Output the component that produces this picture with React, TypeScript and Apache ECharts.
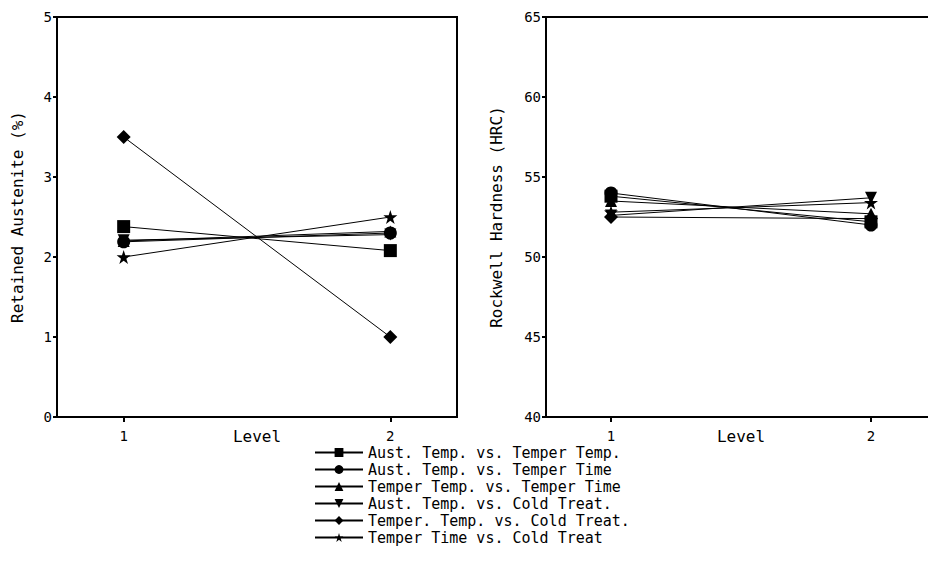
import React, { useEffect, useRef } from "react";
import * as echarts from "echarts";

const seriesNames = [
  "Aust. Temp. vs. Temper Temp.",
  "Aust. Temp. vs. Temper Time",
  "Temper Temp. vs. Temper Time",
  "Aust. Temp. vs. Cold Treat.",
  "Temper. Temp. vs. Cold Treat.",
  "Temper Time vs. Cold Treat",
];
const levels = [1, 2];
// Retained austenite (%) at level 1 and level 2
const austenite = [
  [2.38, 2.08],
  [2.19, 2.3],
  [2.2, 2.32],
  [2.21, 2.28],
  [3.5, 1.0],
  [2.0, 2.5],
];
// Rockwell hardness (HRC) at level 1 and level 2
const hardness = [
  [53.8, 52.2],
  [54.0, 52.0],
  [53.5, 52.7],
  [52.6, 53.7],
  [52.5, 52.4],
  [52.8, 53.4],
];
const leftTicks = { min: 0, max: 5, interval: 1 };
const rightTicks = { min: 40, max: 65, interval: 5 };

const STAR =
  "path://M5,0 L6.2,3.6 L10,3.6 L6.9,5.9 L8.1,9.5 L5,7.3 L1.9,9.5 L3.1,5.9 L0,3.6 L3.8,3.6 Z";
const DOWN = "path://M0,0 L10,0 L5,9 Z";
const UP = "path://M5,0 L10,9 L0,9 Z";
const symbols = ["rect", "circle", UP, DOWN, "diamond", STAR];
const sizes = [13, 13, 12, 12, 14, 14];

const FONT = "DejaVu Sans Mono";

export default function App() {
  const ref = useRef<HTMLDivElement>(null);
  useEffect(() => {
    if (!ref.current) return;
    const chart = echarts.init(ref.current, null, { renderer: "svg" });
    const xAxisBase = (gridIndex: number) => ({
      type: "value",
      gridIndex,
      min: 0.75,
      max: 2.25,
      interval: 0.25,
      name: "Level",
      nameLocation: "middle",
      nameGap: 11,
      nameMoveOverlap: false,
      nameTextStyle: { fontFamily: FONT, fontSize: 16, color: "#000" },
      axisLine: { lineStyle: { color: "#000", width: 2 } },
      axisTick: { show: true, length: 5, customValues: levels, lineStyle: { color: "#000", width: 2 } },
      axisLabel: { customValues: levels, margin: 12, fontFamily: FONT, fontSize: 14, color: "#000" },
      splitLine: { show: false },
    });
    const yAxisBase = (gridIndex: number, t: any, name: string, gap: number) => ({
      type: "value",
      gridIndex,
      min: t.min,
      max: t.max,
      interval: t.interval,
      name,
      nameLocation: "middle",
      nameGap: gap,
      nameMoveOverlap: false,
      nameTextStyle: { fontFamily: FONT, fontSize: 16, color: "#000" },
      axisLine: { show: true, lineStyle: { color: "#000", width: 2 } },
      axisTick: { show: true, length: 4, lineStyle: { color: "#000", width: 2 } },
      axisLabel: { margin: 5, fontFamily: FONT, fontSize: 14, color: "#000" },
      splitLine: { show: false },
    });
    const mkSeries = (data: number[][], idx: number) =>
      seriesNames.map((name, i) => ({
        type: "line",
        name,
        xAxisIndex: idx,
        yAxisIndex: idx,
        data: levels.map((lv, j) => [lv, data[i][j]]),
        symbol: symbols[i],
        symbolSize: sizes[i],
        showAllSymbol: true,
        lineStyle: { color: "#000", width: 1 },
        itemStyle: { color: "#000" },
        emphasis: { disabled: true },
        z: 2 + (5 - i),
      }));
    chart.setOption({
      animation: false,
      backgroundColor: "#fff",
      textStyle: { fontFamily: FONT },
      grid: [
        { left: 57, top: 17, width: 400, height: 400, show: true, borderColor: "#000", borderWidth: 2, backgroundColor: "transparent" },
        { left: 546, top: 17, width: 400, height: 400, show: true, borderColor: "#000", borderWidth: 2, backgroundColor: "transparent" },
      ],
      xAxis: [xAxisBase(0), xAxisBase(1)],
      yAxis: [
        yAxisBase(0, leftTicks, "Retained Austenite (%)", 32),
        yAxisBase(1, rightTicks, "Rockwell Hardness (HRC)", 42),
      ],
      legend: {
        orient: "vertical",
        left: 314,
        top: 445,
        padding: 0,
        itemWidth: 48,
        itemHeight: 11,
        itemGap: 2,
        data: seriesNames,
        textStyle: { fontFamily: FONT, fontSize: 15, color: "#000" },
        selectedMode: false,
      },
      series: [...mkSeries(austenite, 0), ...mkSeries(hardness, 1)],
    });
    return () => chart.dispose();
  }, []);
  return <div ref={ref} style={{ width: 936, height: 586, marginLeft: -8, marginTop: -8 }} />;
}
